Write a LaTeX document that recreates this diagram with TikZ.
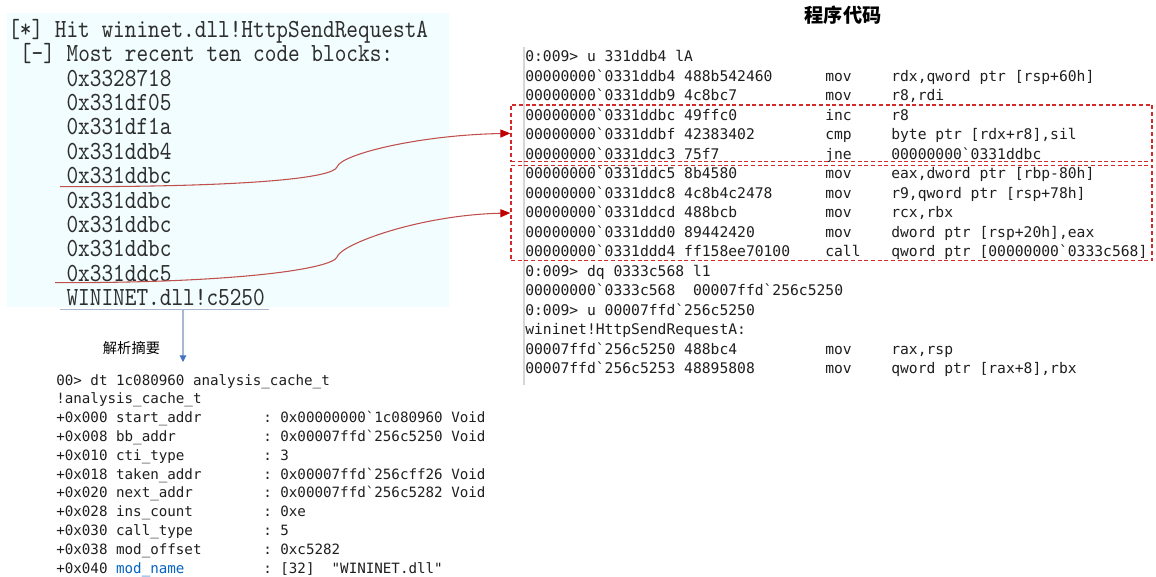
\documentclass[tikz,border=0pt]{standalone}
\usepackage{fontspec}
\setmonofont{DejaVu Sans Mono}
\newfontfamily\tlfont[FakeStretch=0.85]{lmmono10-regular.otf}
\newfontfamily\cjk{Noto Sans CJK SC}
\usetikzlibrary{arrows.meta,fit}
\definecolor{boxbg}{HTML}{F1FDFE}
\definecolor{tlc}{HTML}{2E2E2E}
\definecolor{rcc}{HTML}{1E1E1E}
\definecolor{dred}{HTML}{D42A2A}
\definecolor{curvec}{HTML}{C0504D}
\definecolor{tipred}{HTML}{C00000}
\definecolor{ulblue}{HTML}{A8B8D0}
\definecolor{tipblue}{HTML}{4472C4}
\definecolor{linkblue}{HTML}{0563C1}
\definecolor{divgray}{HTML}{D6D6D6}
\newcommand\asmrow[5]{%
  \node[rc] (#1a) at (525,{61.5+19.5*#2}) {#3};
  \node[rc] (#1m) at (825,{61.5+19.5*#2}) {#4};
  \node[rc] (#1o) at (891,{61.5+19.5*#2}) {#5};}
\newcommand\asmline[3]{%
  \node[rc] (#1) at (525,{61.5+19.5*#2}) {#3};}
\newcommand\dtrow[4]{%
  \node[bl] (#1f) at (56,{385+18.83*#2}) {#3};
  \node[bl] (#1v) at (263,{385+18.83*#2}) {#4};}
\newcommand\tlrow[4]{%
  \node[tl] (#1) at (#2,{37.3+24.4*#3}) {#4};}
\begin{document}
\begin{tikzpicture}[x=0.75pt,y=-0.75pt,
  tl/.style={font=\tlfont\fontsize{19.6pt}{24pt}\selectfont, text=tlc, anchor=base west, inner sep=0pt},
  rc/.style={font=\ttfamily\fontsize{11pt}{14pt}\selectfont, text=rcc, anchor=base west, inner sep=0pt},
  bl/.style={font=\ttfamily\fontsize{10.65pt}{13pt}\selectfont, text=rcc, anchor=base west, inner sep=0pt},
  dbox/.style={draw=dred, dash pattern=on 3pt off 2pt, line width=0.9pt, inner sep=0pt},
  redcurve/.style={draw=curvec, line width=0.8pt, -{Triangle[length=7.5pt,width=6pt,color=tipred]}},
  bluearrow/.style={draw=ulblue, line width=0.8pt, -{Triangle[length=5pt,width=5pt,color=tipblue]}},
  ]
\useasboundingbox (0,0) rectangle (1156,576);

% top-left log box
\node[fill=boxbg, inner sep=0pt, fit={(7,13) (449,307)}] (cbox) {};
\tlrow{t0}{8}{0}{[*] Hit wininet.dll!HttpSendRequestA}
\tlrow{t1}{19.7}{1}{[-] Most recent ten code blocks:}
\tlrow{t2}{66.3}{2}{0x3328718}
\tlrow{t3}{66.3}{3}{0x331df05}
\tlrow{t4}{66.3}{4}{0x331df1a}
\tlrow{t5}{66.3}{5}{0x331ddb4}
\tlrow{t6}{66.3}{6}{0x331ddbc}
\tlrow{t7}{66.3}{7}{0x331ddbc}
\tlrow{t8}{66.3}{8}{0x331ddbc}
\tlrow{t9}{66.3}{9}{0x331ddbc}
\tlrow{t10}{66.3}{10}{0x331ddc5}
\tlrow{t11}{66.3}{11}{WININET.dll!c5250}

% title
\node[font=\cjk\bfseries\fontsize{14.4pt}{16pt}\selectfont, inner sep=0pt] (title) at (843,15) {程序代码};

% divider
\coordinate (divtop) at (524,47);
\coordinate (divbot) at (524,385);
\draw[divgray, line width=1.3pt] (divtop) -- (divbot);

% assembly listing
\asmline{r0}{0}{0:009> u 331ddb4 lA}
\asmrow{r1}{1}{00000000`0331ddb4 488b542460}{mov}{rdx,qword ptr [rsp+60h]}
\asmrow{r2}{2}{00000000`0331ddb9 4c8bc7}{mov}{r8,rdi}
\asmrow{r3}{3}{00000000`0331ddbc 49ffc0}{inc}{r8}
\asmrow{r4}{4}{00000000`0331ddbf 42383402}{cmp}{byte ptr [rdx+r8],sil}
\asmrow{r5}{5}{00000000`0331ddc3 75f7}{jne}{00000000`0331ddbc}
\asmrow{r6}{6}{00000000`0331ddc5 8b4580}{mov}{eax,dword ptr [rbp-80h]}
\asmrow{r7}{7}{00000000`0331ddc8 4c8b4c2478}{mov}{r9,qword ptr [rsp+78h]}
\asmrow{r8}{8}{00000000`0331ddcd 488bcb}{mov}{rcx,rbx}
\asmrow{r9}{9}{00000000`0331ddd0 89442420}{mov}{dword ptr [rsp+20h],eax}
\asmrow{r10}{10}{00000000`0331ddd4 ff158ee70100}{call}{qword ptr [00000000`0333c568]}
\asmline{r11}{11}{0:009> dq 0333c568 l1}
\asmline{r12}{12}{00000000`0333c568\ \ 00007ffd`256c5250}
\asmline{r13}{13}{0:009> u 00007ffd`256c5250}
\asmline{r14}{14}{wininet!HttpSendRequestA:}
\asmrow{r15}{15}{00007ffd`256c5250 488bc4}{mov}{rax,rsp}
\asmrow{r16}{16}{00007ffd`256c5253 48895808}{mov}{qword ptr [rax+8],rbx}

% dashed boxes
\node[dbox, fit={(511,105) (1152,161.7)}] (box1) {};
\node[dbox, fit={(511,165.3) (1152,260.7)}] (box2) {};

% curved connectors
\coordinate (u1) at (60,186.7);
\coordinate (u2) at (55,282.7);
\draw[redcurve] (u1) .. controls (250,187) and (333,178) .. (337,167)
  .. controls (341,154) and (420,135) .. (box1.west);
\draw[redcurve] (u2) .. controls (245,283) and (333,268) .. (337,257)
  .. controls (341,244) and (420,215) .. (box2.west);

% WININET underline and arrow down
\coordinate (wl) at (60,309.3);
\coordinate (wr) at (269,309.3);
\coordinate (wd) at (183,309.3);
\coordinate (dttop) at (183,362);
\draw[ulblue, line width=0.8pt] (wl) -- (wr);
\draw[bluearrow] (wd) -- (dttop);
\node[font=\cjk\fontsize{10.7pt}{12pt}\selectfont, inner sep=0pt] (sumlabel) at (131.5,348) {解析摘要};

% dt output
\node[bl] (d0) at (56,385) {00> dt 1c080960 analysis\_cache\_t};
\node[bl] (d1) at (56,{385+18.83}) {!analysis\_cache\_t};
\dtrow{d2}{2}{+0x000 start\_addr}{: 0x00000000`1c080960 Void}
\dtrow{d3}{3}{+0x008 bb\_addr}{: 0x00007ffd`256c5250 Void}
\dtrow{d4}{4}{+0x010 cti\_type}{: 3}
\dtrow{d5}{5}{+0x018 taken\_addr}{: 0x00007ffd`256cff26 Void}
\dtrow{d6}{6}{+0x020 next\_addr}{: 0x00007ffd`256c5282 Void}
\dtrow{d7}{7}{+0x028 ins\_count}{: 0xe}
\dtrow{d8}{8}{+0x030 call\_type}{: 5}
\dtrow{d9}{9}{+0x038 mod\_offset}{: 0xc5282}
\dtrow{d10}{10}{+0x040 \textcolor{linkblue}{\underline{mod\_name}}}{: [32]\ \ "WININET.dll"}
\end{tikzpicture}
\end{document}
